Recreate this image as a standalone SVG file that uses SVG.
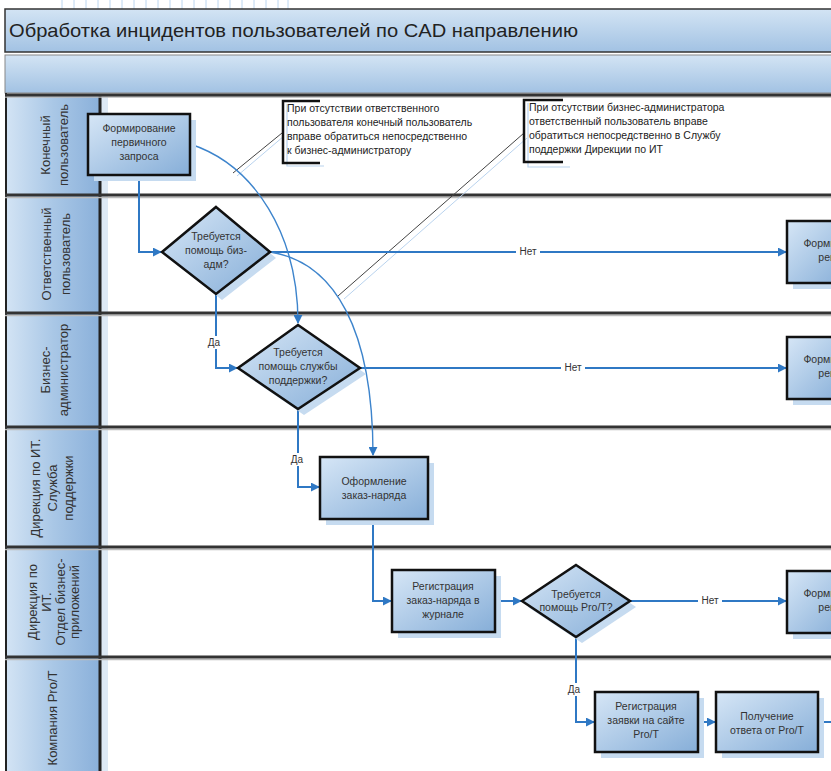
<svg xmlns="http://www.w3.org/2000/svg" width="831" height="771" viewBox="0 0 831 771">
<defs>
<linearGradient id="gNode" x1="0" y1="0" x2="1" y2="1">
<stop offset="0" stop-color="#d6e6f6"/><stop offset="1" stop-color="#86aed8"/>
</linearGradient>
<linearGradient id="gBand" x1="0" y1="0" x2="0" y2="1">
<stop offset="0" stop-color="#d3e4f4"/><stop offset="1" stop-color="#a2c2e3"/>
</linearGradient>
<linearGradient id="gHead" x1="0" y1="0" x2="1" y2="0">
<stop offset="0" stop-color="#d2e3f4"/><stop offset="0.5" stop-color="#a9c7e6"/><stop offset="1" stop-color="#8ab0da"/>
</linearGradient>
<marker id="arr" viewBox="0 0 10 10" refX="9" refY="5" markerWidth="9" markerHeight="9" markerUnits="userSpaceOnUse" orient="auto">
<path d="M0,0 L10,5 L0,10 z" fill="#2f78c4"/>
</marker>
<style>
.node{fill:url(#gNode);stroke:#111;stroke-width:2.5}
.shadow{fill:#c6dbf0}
.nt{font-family:"Liberation Sans",Arial,sans-serif;font-size:10.5px;fill:#333;text-anchor:middle}
.lane{font-family:"Liberation Sans",Arial,sans-serif;font-size:13px;fill:#333;text-anchor:middle}
.ann{font-family:"Liberation Sans",Arial,sans-serif;font-size:10.5px;fill:#222}
.lbl{font-family:"Liberation Sans",Arial,sans-serif;font-size:10px;fill:#333;text-anchor:middle}
.c{fill:none;stroke:#2f78c4;stroke-width:2;marker-end:url(#arr)}
.cv{fill:none;stroke:#3d84cc;stroke-width:1.4;marker-end:url(#arr)}
.sep{stroke:#333;stroke-width:3}
.sep2{stroke:#bbb;stroke-width:1.5}
.tick{stroke:#bcd6f0;stroke-width:1}
</style>
</defs>
<rect width="831" height="771" fill="#fff"/>
<g id="ruler">
<path class="tick" d="M62,0V9M74,0V9M86,0V9M98,0V9M110,0V9M122,0V9M134,0V9M146,0V9M158,0V9M170,0V9M182,0V9M194,0V9M206,0V9M218,0V9M230,0V9M242,0V9M254,0V9M266,0V9M278,0V9M288,0V9"/>
</g>
<g id="frame">
<rect x="5" y="9" width="840" height="43" fill="url(#gBand)" stroke="#333" stroke-width="1.5"/>
<text x="9" y="37" font-family="'Liberation Sans',Arial,sans-serif" font-size="18.5" fill="#222" textLength="569" lengthAdjust="spacingAndGlyphs">Обработка инцидентов пользователей по CAD направлению</text>
<rect x="5" y="55" width="840" height="38" fill="url(#gBand)" stroke="#888" stroke-width="1"/>
<rect x="7" y="95" width="93" height="680" fill="url(#gHead)"/>
<rect x="101" y="95" width="7" height="680" fill="#dde9f5"/>
<line x1="6" y1="93" x2="6" y2="771" stroke="#222" stroke-width="2"/>
<line x1="100" y1="95" x2="100" y2="771" stroke="#222" stroke-width="3"/>
</g>
<g id="lanes">
<line class="sep2" x1="5" y1="97" x2="831" y2="97"/>
<line class="sep" x1="5" y1="95" x2="831" y2="95"/>
<line class="sep2" x1="5" y1="197.5" x2="831" y2="197.5"/>
<line class="sep" x1="5" y1="195" x2="831" y2="195"/>
<line class="sep2" x1="5" y1="315.5" x2="831" y2="315.5"/>
<line class="sep" x1="5" y1="313" x2="831" y2="313"/>
<line class="sep2" x1="5" y1="429.5" x2="831" y2="429.5"/>
<line class="sep" x1="5" y1="427" x2="831" y2="427"/>
<line class="sep2" x1="5" y1="549.5" x2="831" y2="549.5"/>
<line class="sep" x1="5" y1="547" x2="831" y2="547"/>
<line class="sep2" x1="5" y1="659.5" x2="831" y2="659.5"/>
<line class="sep" x1="5" y1="657" x2="831" y2="657"/>
<g transform="translate(0,145) rotate(-90)"><text class="lane" x="0" y="50">Конечный</text><text class="lane" x="0" y="68">пользователь</text></g>
<g transform="translate(0,254) rotate(-90)"><text class="lane" x="0" y="51">Ответственный</text><text class="lane" x="0" y="70">пользователь</text></g>
<g transform="translate(0,370) rotate(-90)"><text class="lane" x="0" y="50">Бизнес-</text><text class="lane" x="0" y="68">администратор</text></g>
<g transform="translate(0,488) rotate(-90)"><text class="lane" x="0" y="40">Дирекция по ИТ.</text><text class="lane" x="0" y="57">Служба</text><text class="lane" x="0" y="73">поддержки</text></g>
<g transform="translate(0,602) rotate(-90)"><text class="lane" x="0" y="37">Дирекция по</text><text class="lane" x="0" y="51">ИТ.</text><text class="lane" x="0" y="65">Отдел бизнес-</text><text class="lane" x="0" y="79">приложений</text></g>
<g transform="translate(0,718) rotate(-90)"><text class="lane" x="0" y="57">Компания Pro/T</text></g>
</g>
<g id="annotations">
<line x1="284" y1="136" x2="237" y2="176" stroke="#b9d3ee" stroke-width="1"/>
<line x1="282" y1="133" x2="233" y2="173" stroke="#444" stroke-width="1"/>
<path d="M287,104 V166 H324" fill="none" stroke="#b9d3ee" stroke-width="1.2"/>
<path d="M320,101 H283 V163 H320" fill="none" stroke="#111" stroke-width="2.5"/>
<text class="ann" x="287" y="112">При отсутствии ответственного</text>
<text class="ann" x="287" y="126">пользователя конечный пользователь</text>
<text class="ann" x="287" y="140">вправе обратиться непосредственно</text>
<text class="ann" x="287" y="154">к бизнес-администратору</text>
<line x1="527" y1="138" x2="344" y2="299" stroke="#b9d3ee" stroke-width="1"/>
<line x1="524" y1="133" x2="338" y2="296" stroke="#444" stroke-width="1"/>
<path d="M528,103 V167 H570" fill="none" stroke="#b9d3ee" stroke-width="1.2"/>
<path d="M563,100 H524 V162 H563" fill="none" stroke="#111" stroke-width="2.5"/>
<text class="ann" x="529" y="111">При отсутствии бизнес-администратора</text>
<text class="ann" x="529" y="125">ответственный пользователь вправе</text>
<text class="ann" x="529" y="139">обратиться непосредственно в Службу</text>
<text class="ann" x="529" y="153">поддержки Дирекции по ИТ</text>
</g>
<g id="connectors">
<path class="c" d="M139,175 V252 H161"/>
<path class="c" d="M270,252 H786"/>
<rect x="516" y="245" width="24" height="13" fill="#fff"/>
<text class="lbl" x="528" y="255">Нет</text>
<path class="c" d="M216,294 V368 H237"/>
<rect x="206" y="336" width="18" height="13" fill="#fff"/>
<text class="lbl" x="214" y="346">Да</text>
<path class="c" d="M360,368 H786"/>
<rect x="561" y="361" width="24" height="13" fill="#fff"/>
<text class="lbl" x="573" y="371">Нет</text>
<path class="c" d="M298,409 V487 H319"/>
<rect x="288" y="453" width="18" height="13" fill="#fff"/>
<text class="lbl" x="297" y="463">Да</text>
<path class="c" d="M373,519 V601 H391"/>
<path class="c" d="M495,601 H521"/>
<path class="c" d="M630,601 H786"/>
<rect x="698" y="594" width="24" height="13" fill="#fff"/>
<text class="lbl" x="710" y="604">Нет</text>
<path class="c" d="M576,637 V722 H594"/>
<rect x="566" y="683" width="18" height="13" fill="#fff"/>
<text class="lbl" x="574" y="693">Да</text>
<path class="c" d="M698,722 H715"/>
<path class="c" d="M818,722 H840"/>
<path class="cv" d="M190,144 C255,165 298,235 298,323"/>
<path class="cv" d="M270,252 C335,262 373,330 373,455"/>
</g>
<g id="n1">
<rect class="shadow" x="94" y="120" width="102" height="61"/>
<rect class="node" x="88" y="114" width="102" height="61"/>
<text class="nt" x="139" y="132">Формирование</text><text class="nt" x="139" y="146">первичного</text><text class="nt" x="139" y="160">запроса</text>
</g>
<g id="d1">
<path class="shadow" d="M222,213 L276,258 L222,300 L168,258 z"/>
<path class="node" d="M216,207 L270,252 L216,294 L162,252 z"/>
<text class="nt" x="216" y="240">Требуется</text><text class="nt" x="216" y="254">помощь биз-</text><text class="nt" x="216" y="268">адм?</text>
</g>
<g id="d2">
<path class="shadow" d="M304,331 L366,374 L304,415 L244,374 z"/>
<path class="node" d="M298,325 L360,368 L298,409 L238,368 z"/>
<text class="nt" x="298" y="356">Требуется</text><text class="nt" x="298" y="370">помощь службы</text><text class="nt" x="298" y="384">поддержки?</text>
</g>
<g id="n2">
<rect class="shadow" x="326" y="463" width="108" height="62"/>
<rect class="node" x="320" y="457" width="108" height="62"/>
<text class="nt" x="374" y="485">Оформление</text><text class="nt" x="374" y="499">заказ-наряда</text>
</g>
<g id="n3">
<rect class="shadow" x="398" y="576" width="103" height="62"/>
<rect class="node" x="392" y="570" width="103" height="62"/>
<text class="nt" x="443" y="590">Регистрация</text><text class="nt" x="443" y="604">заказ-наряда в</text><text class="nt" x="443" y="618">журнале</text>
</g>
<g id="d3">
<path class="shadow" d="M582,571 L636,607 L582,643 L528,607 z"/>
<path class="node" d="M576,565 L630,601 L576,637 L522,601 z"/>
<text class="nt" x="576" y="598">Требуется</text><text class="nt" x="576" y="611">помощь Pro/T?</text>
</g>
<g id="n4">
<rect class="shadow" x="601" y="698" width="103" height="60"/>
<rect class="node" x="595" y="692" width="103" height="60"/>
<text class="nt" x="646" y="710">Регистрация</text><text class="nt" x="646" y="724">заявки на сайте</text><text class="nt" x="646" y="738">Pro/T</text>
</g>
<g id="n5">
<rect class="shadow" x="722" y="698" width="102" height="60"/>
<rect class="node" x="716" y="692" width="102" height="60"/>
<text class="nt" x="767" y="720">Получение</text><text class="nt" x="767" y="734">ответа от Pro/T</text>
</g>
<g id="r1">
<rect class="shadow" x="793" y="227" width="60" height="62"/>
<rect class="node" x="787" y="221" width="60" height="62"/>
<text class="nt" x="840" y="247">Формирование</text><text class="nt" x="840" y="261">решения</text>
</g>
<g id="r2">
<rect class="shadow" x="793" y="343" width="60" height="62"/>
<rect class="node" x="787" y="337" width="60" height="62"/>
<text class="nt" x="840" y="363">Формирование</text><text class="nt" x="840" y="377">решения</text>
</g>
<g id="r3">
<rect class="shadow" x="793" y="577" width="60" height="62"/>
<rect class="node" x="787" y="571" width="60" height="62"/>
<text class="nt" x="840" y="597">Формирование</text><text class="nt" x="840" y="611">решения</text>
</g>
</svg>
